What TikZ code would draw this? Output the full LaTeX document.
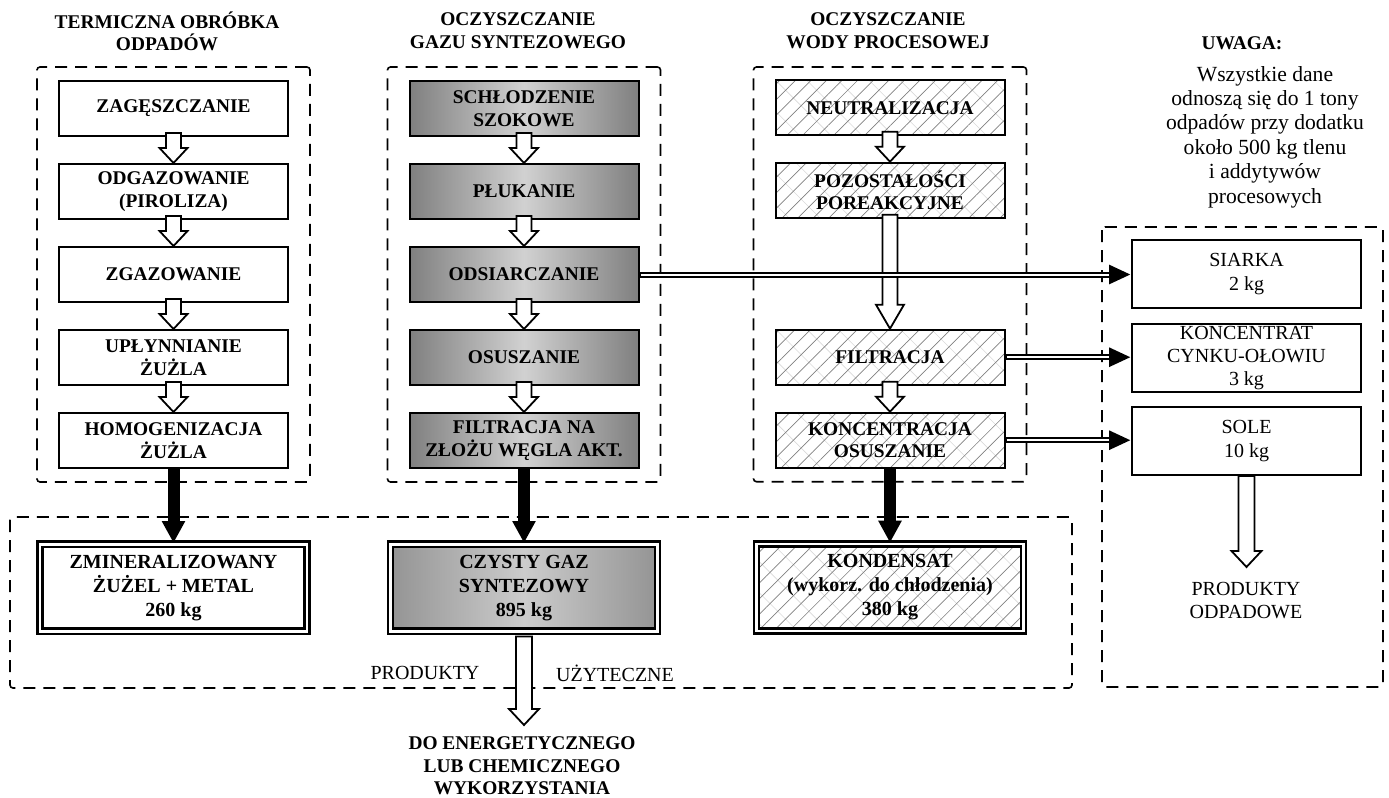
\documentclass[tikz,border=0pt]{standalone}
\usepackage{fontspec}
\setmainfont{Liberation Serif}
\usepackage{tikz}
\usetikzlibrary{arrows.meta, positioning, fit, calc, patterns.meta}
\usepackage{xcolor}
\definecolor{gasdark}{gray}{0.50}
\definecolor{gaslight}{gray}{0.82}
\definecolor{proddark}{gray}{0.58}
\definecolor{prodlight}{gray}{0.80}
\definecolor{hatchcolor}{gray}{0.50}
\definecolor{hatchlight}{gray}{0.85}
\newcommand{\boldtxt}{\fontsize{9.7}{11.3}\selectfont\bfseries}
\newcommand{\plaintxt}{\fontsize{10}{12.3}\selectfont}
\newcommand{\notetxt}{\fontsize{10.8}{12.2}\selectfont}
\tikzset{
  stepbox/.style   = {draw, line width=1pt, minimum width=114.5pt, minimum height=27.5pt,
                      align=center, font=\boldtxt, inner sep=2pt},
  gasbox/.style    = {stepbox, left color=gasdark, right color=gasdark, middle color=gaslight},
  waterbox/.style  = {stepbox,
                      preaction={pattern={Lines[angle=-45, distance=11pt, line width=0.3pt]},
                                 pattern color=hatchlight},
                      pattern={Lines[angle=45, distance=5.5pt, line width=0.35pt]},
                      pattern color=hatchcolor},
  wastebox/.style  = {draw, line width=1pt, minimum width=114.5pt, minimum height=34pt,
                      align=center, font=\plaintxt, inner sep=0.5pt},
  prodbox/.style   = {draw, line width=1.2pt, double=white, double distance=1.4pt,
                      minimum width=133.5pt, minimum height=43.5pt, align=center,
                      font=\fontsize{10}{12}\selectfont\bfseries},
  gasprod/.style   = {prodbox, left color=proddark, right color=proddark, middle color=prodlight},
  waterprod/.style = {prodbox,
                      preaction={pattern={Lines[angle=-45, distance=11pt, line width=0.3pt]},
                                 pattern color=hatchlight},
                      pattern={Lines[angle=45, distance=5.5pt, line width=0.35pt]},
                      pattern color=hatchcolor},
  grpbox/.style    = {draw, dash pattern=on 6pt off 4pt, line width=0.8pt, rounded corners=1.5pt,
                      inner xsep=10.5pt, inner ysep=6.5pt},
  hollow/.style    = {draw, line width=0.9pt, fill=white, line join=miter},
  boldarrow/.style = {line width=6pt, -{Triangle[length=11pt, width=11pt]}},
  dblarrow/.style  = {line width=3pt, -{Triangle[length=11pt, width=9pt]},
                      postaction={draw=white, line width=1pt, -, shorten >=11pt, shorten <=0.6pt}},
}
% hollow block arrow: from, to, shaft half width, head half width, head length
\newcommand{\blockarrow}[5]{%
  \draw[hollow] let \p1 = #1, \p2 = #2 in
    (\x1-#3,\y1+2pt) -- (\x1-#3,\y2+#5) -- (\x1-#4,\y2+#5) -- (\x1,\y2)
    -- (\x1+#4,\y2+#5) -- (\x1+#3,\y2+#5) -- (\x1+#3,\y1+2pt) -- cycle;}

\begin{document}
\begin{tikzpicture}[x=0.5pt, y=-0.5pt]
  \useasboundingbox (0,0) rectangle (1389,798);

  \node[font=\boldtxt, align=center] (hdrtherm) at (167,31.5) {TERMICZNA OBRÓBKA\\ODPADÓW};
  \node[font=\boldtxt, align=center] (hdrgas) at (518,30.5) {OCZYSZCZANIE\\GAZU SYNTEZOWEGO};
  \node[font=\boldtxt, align=center] (hdrwater) at (888,30.5) {OCZYSZCZANIE\\WODY PROCESOWEJ};
  \node[font=\boldtxt] (uwaga) at (1242,43) {UWAGA:};
  \node[font=\notetxt, align=center] (note) at (1265,137) {Wszystkie dane\\odnoszą się do 1 tony\\
    odpadów przy dodatku\\około 500 kg tlenu\\i addytywów\\procesowych};

  \node[stepbox, anchor=north] (zag) at (173.5,80) {ZAGĘSZCZANIE};
  \node[stepbox, below=13pt of zag] (odgaz) {ODGAZOWANIE\\(PIROLIZA)};
  \node[stepbox, below=13pt of odgaz] (zgaz) {ZGAZOWANIE};
  \node[stepbox, below=13pt of zgaz] (uplyn) {UPŁYNNIANIE\\ŻUŻLA};
  \node[stepbox, below=13pt of uplyn] (homo) {HOMOGENIZACJA\\ŻUŻLA};

  \node[gasbox, anchor=north] (schl) at (524,80) {SCHŁODZENIE\\SZOKOWE};
  \node[gasbox, below=13pt of schl] (plukanie) {PŁUKANIE};
  \node[gasbox, below=13pt of plukanie] (odsiar) {ODSIARCZANIE};
  \node[gasbox, below=13pt of odsiar] (osusz) {OSUSZANIE};
  \node[gasbox, below=13pt of osusz] (filtwegiel) {FILTRACJA NA\\ZŁOŻU WĘGLA AKT.};

  \node[waterbox, anchor=north] (neutr) at (890,80) {NEUTRALIZACJA};
  \node[waterbox, below=13pt of neutr] (pozost) {POZOSTAŁOŚCI\\POREAKCYJNE};
  \node[waterbox, below=55pt of pozost] (filtr) {FILTRACJA};
  \node[waterbox, below=13pt of filtr] (konc) {KONCENTRACJA\\OSUSZANIE};

  \node[wastebox, anchor=north] (siarka) at (1246.5,239) {SIARKA\\2 kg};
  \node[wastebox, below=7pt of siarka, font=\fontsize{10}{11.6}\selectfont] (cynk) {KONCENTRAT\\CYNKU-OŁOWIU\\3 kg};
  \node[wastebox, below=6.5pt of cynk] (sole) {SOLE\\10 kg};

  \node[prodbox, below=37pt of homo] (zmin) {ZMINERALIZOWANY\\ŻUŻEL + METAL\\260 kg};
  \node[gasprod, below=37pt of filtwegiel] (czysty) {CZYSTY GAZ\\SYNTEZOWY\\895 kg};
  \node[waterprod, below=37pt of konc] (kondens) {KONDENSAT\\(wykorz. do chłodzenia)\\380 kg};

  \node[grpbox, fit=(zag)(homo)] (thermgrp) {};
  \node[grpbox, fit=(schl)(filtwegiel)] (gasgrp) {};
  \node[grpbox, fit=(neutr)(konc)] (watergrp) {};
  \draw[grpbox] (1102,227) rectangle (1383,687);
  \draw[grpbox] (10,517) rectangle (1072,688);

  \node[font=\plaintxt] (produse) at (425,673) {PRODUKTY};
  \node[font=\plaintxt] (uzyt) at (615,673) {UŻYTECZNE};
  \node[font=\fontsize{10}{11.5}\selectfont, align=center] (odpad) at (1246,601) {PRODUKTY\\ODPADOWE};
  \node[font=\boldtxt, align=center] (energ) at (522,766) {DO ENERGETYCZNEGO\\LUB CHEMICZNEGO\\WYKORZYSTANIA};
  \coordinate (gastip) at (525,725);
  \coordinate (wastetip) at (1246,567);

  \foreach \a/\b in {zag/odgaz, odgaz/zgaz, zgaz/uplyn, uplyn/homo,
                     schl/plukanie, plukanie/odsiar, odsiar/osusz, osusz/filtwegiel,
                     neutr/pozost, filtr/konc}
    \blockarrow{(\a.south)}{(\b.north)}{3.75pt}{7pt}{7.5pt};
  \blockarrow{(pozost.south)}{(filtr.north)}{3.75pt}{7pt}{12pt}
  \blockarrow{($(sole.south)+(0,4)$)}{(wastetip)}{4pt}{7.5pt}{8pt}
  \blockarrow{($(czysty.south)+(0,8)$)}{(gastip)}{4pt}{7.5pt}{8pt}

  \draw[dblarrow] (odsiar.east) -- (odsiar.east -| siarka.west);
  \draw[dblarrow] (filtr.east) -- (filtr.east -| cynk.west);
  \draw[dblarrow] (konc.east) -- (konc.east -| sole.west);

  \draw[boldarrow] (homo.south) -- (homo.south |- zmin.north);
  \draw[boldarrow] (filtwegiel.south) -- (filtwegiel.south |- czysty.north);
  \draw[boldarrow] (konc.south) -- (konc.south |- kondens.north);
\end{tikzpicture}
\end{document}
